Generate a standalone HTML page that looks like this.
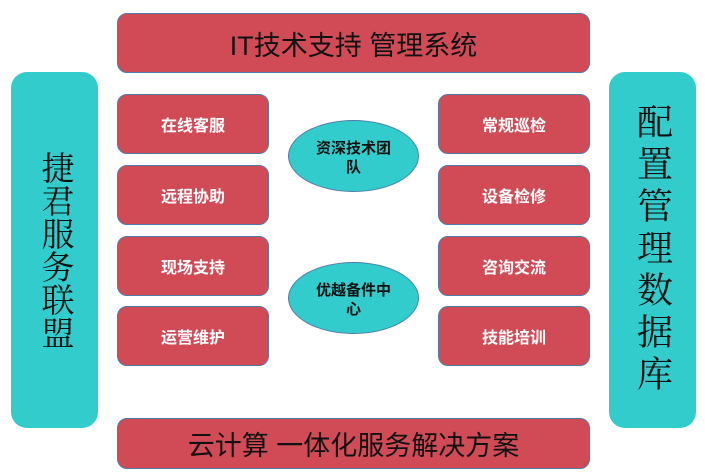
<!DOCTYPE html>
<html><head><meta charset="utf-8"><style>
body{margin:0;width:705px;height:476px;background:#fff;position:relative;overflow:hidden;font-family:"Liberation Sans","Noto Sans CJK SC",sans-serif}
.a{position:absolute;box-sizing:border-box;display:flex;align-items:center;justify-content:center;text-align:center}
.bar{background:#D14B56;border:1.5px solid #4F7BA8;border-radius:10px;font-size:27px;color:#111;left:117px;width:473px}
.box{background:#D14B56;border:1.5px solid #4F7BA8;border-radius:10px;color:#fff;font-weight:bold;font-size:16px;width:152px;height:60px}
.side{background:#33CCCC;border-radius:16px;width:87px;height:356px;top:72px;color:#111;writing-mode:vertical-rl;font-family:"Liberation Serif","Noto Serif CJK SC",serif}
.ell{background:#33CCCC;border:1.5px solid #4F7BA8;border-radius:50%;width:131px;height:72px;left:288px;font-weight:bold;font-size:15px;line-height:19px;color:#111;padding:4px 24px 0}
</style></head><body>
<div class="a bar" style="top:13px;height:60px">IT技术支持 管理系统</div>
<div class="a bar" style="top:418px;height:51px">云计算 一体化服务解决方案</div>
<div class="a side" style="left:11px;font-size:33px;line-height:34px">捷君服务联盟</div>
<div class="a side" style="left:609px;font-size:36px;line-height:42px;letter-spacing:6px">配置管理数据库</div>
<div class="a box" style="left:117px;top:94px">在线客服</div>
<div class="a box" style="left:117px;top:165px">远程协助</div>
<div class="a box" style="left:117px;top:236px">现场支持</div>
<div class="a box" style="left:117px;top:306px">运营维护</div>
<div class="a box" style="left:438px;top:94px">常规巡检</div>
<div class="a box" style="left:438px;top:165px">设备检修</div>
<div class="a box" style="left:438px;top:236px">咨询交流</div>
<div class="a box" style="left:438px;top:306px">技能培训</div>
<div class="a ell" style="top:120px">资深技术团队</div>
<div class="a ell" style="top:262px">优越备件中心</div>
</body></html>
